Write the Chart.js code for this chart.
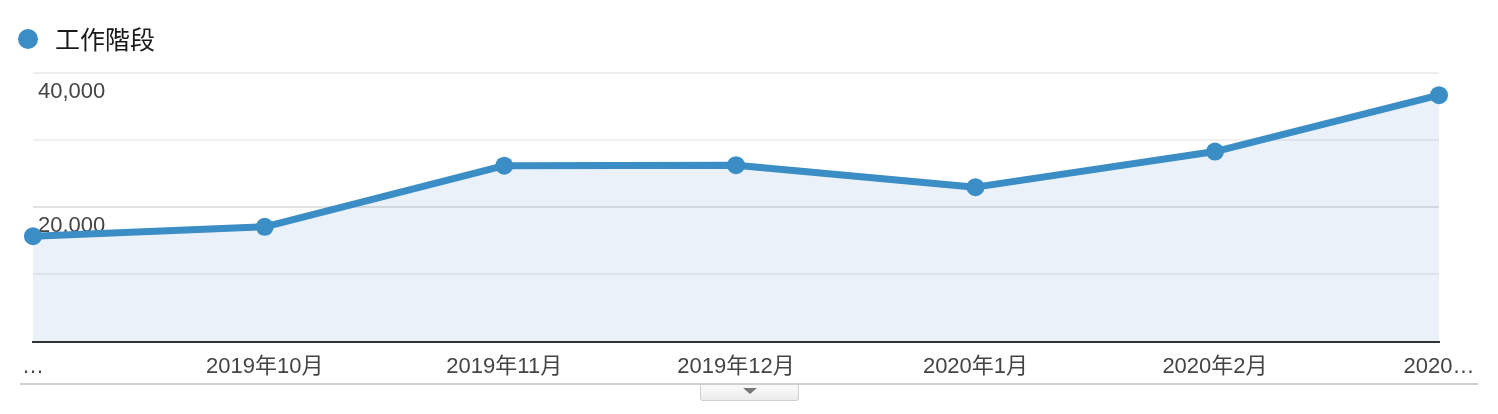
<!DOCTYPE html>
<html>
<head>
<meta charset="utf-8">
<script src="https://cdn.jsdelivr.net/npm/chart.js@4/dist/chart.umd.min.js"></script>
<style>
  html, body { margin: 0; padding: 0; background: #fff; }
  #wrap { position: relative; width: 1498px; height: 414px; overflow: hidden; }
  #c { position: absolute; left: 0; top: 0; }
  #legend { position: absolute; left: 18px; top: 23px; height: 30px; display: flex; align-items: center;
            font-family: 'Noto Sans CJK TC', sans-serif; font-size: 25px; color: #1a1a1a; }
  #legend .dot { width: 20px; height: 20px; border-radius: 50%; background: #3a8dc5; margin-right: 17px; margin-top: 2px; }
  #rule { position: absolute; left: 20px; top: 383px; width: 1458px; height: 2px; background: #cfcfcf; }
  #btn { position: absolute; left: 700px; top: 385px; width: 97px; height: 15px;
         background: linear-gradient(#fafafa, #ececec); border: 1px solid #d0d0d0; border-top: none;
         border-radius: 0 0 3px 3px; }
  #btn .tri { position: absolute; left: 42px; top: 3px; width: 0; height: 0;
              border-left: 7px solid transparent; border-right: 7px solid transparent; border-top: 6px solid #777; }
</style>
</head>
<body>
<div id="wrap">
  <canvas id="c" width="1498" height="414"></canvas>
  <div id="legend"><span class="dot"></span><span>工作階段</span></div>
  <div id="rule"></div>
  <div id="btn"><span class="tri"></span></div>
</div>
<script>
const seriesName = '工作階段';
const categories = ['2019-09-01', '2019-10-01', '2019-11-01', '2019-12-01', '2020-01-01', '2020-02-01', '2020-03-01'];
const tickLabels = ['…', '2019年10月', '2019年11月', '2019年12月', '2020年1月', '2020年2月', '2020…'];
const sessions = [15700, 17100, 26200, 26270, 23000, 28300, 36700];
const yTickValues = [20000, 40000];

const DAY = 86400000;
const t0 = Date.parse(categories[0]);
const dayOffsets = categories.map(d => Math.round((Date.parse(d) - t0) / DAY));

const lineColor = '#3a8dc5';
const font = "'Liberation Sans', 'Noto Sans CJK TC', Arial, sans-serif";

new Chart(document.getElementById('c'), {
  type: 'line',
  data: {
    datasets: [{
      label: seriesName,
      data: dayOffsets.map((x, i) => ({ x, y: sessions[i] })),
      borderColor: lineColor,
      backgroundColor: 'rgba(56,120,190,0.105)',
      fill: 'origin',
      borderWidth: 7,
      tension: 0,
      borderJoinStyle: 'round',
      borderCapStyle: 'round',
      pointRadius: 9,
      pointBorderWidth: 0,
      pointBackgroundColor: lineColor,
      pointHoverRadius: 9,
      clip: false
    }]
  },
  options: {
    responsive: false,
    animation: false,
    events: [],
    layout: { padding: { left: 23, right: 59, top: 73, bottom: 22 } },
    plugins: { legend: { display: false }, tooltip: { enabled: false } },
    scales: {
      x: {
        type: 'linear',
        min: dayOffsets[0],
        max: dayOffsets[dayOffsets.length - 1],
        afterBuildTicks: s => { s.ticks = dayOffsets.map(v => ({ value: v })); },
        grid: { display: false, drawTicks: false },
        border: { display: true, color: '#333', width: 2 },
        ticks: {
          autoSkip: false, maxRotation: 0, padding: 12,
          color: '#444', font: { family: font, size: 22 },
          callback: (v, i) => tickLabels[i]
        }
      },
      y: {
        position: 'left',
        min: 0, max: 40000,
        border: { display: false },
        grid: {
          drawTicks: false,
          lineWidth: 2,
          color: ctx => {
            const v = ctx.tick && ctx.tick.value;
            if (v === 0) return 'rgba(0,0,0,0)';
            if (v === 40000) return '#ededed';
            if (v === 20000) return '#e2e2e2';
            return '#f0f0f0';
          }
        },
        ticks: { display: false, stepSize: 10000 }
      },
      yLabels: {
        position: 'left',
        min: 0, max: 40000,
        z: 1,
        border: { display: false },
        grid: { display: false, drawTicks: false },
        afterBuildTicks: s => { s.ticks = yTickValues.map(v => ({ value: v })); },
        ticks: {
          mirror: true, padding: 5, labelOffset: 19,
          color: '#444', font: { family: font, size: 22 },
          textStrokeColor: '#fff', textStrokeWidth: 4,
          callback: v => v.toLocaleString('en-US')
        }
      }
    }
  }
});
</script>
</body>
</html>
